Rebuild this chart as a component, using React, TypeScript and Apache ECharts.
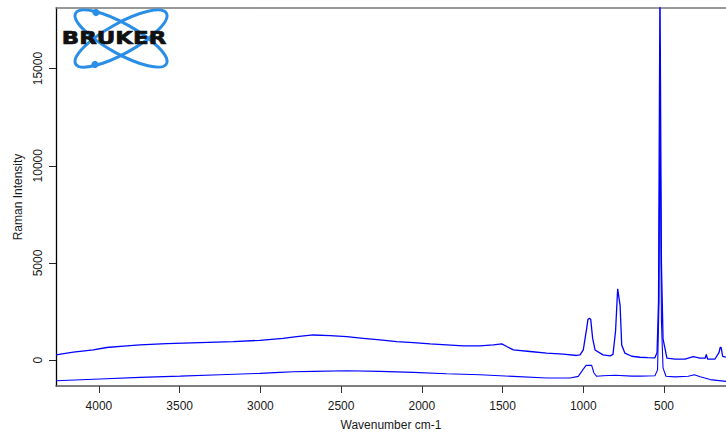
import React, { useEffect, useRef } from "react";
import * as echarts from "echarts";

// Upper spectrum (wavenumber cm-1, intensity)
const upperWavenumbers = [
  4266, 4159, 4035, 3952, 3828, 3746, 3581, 3374, 3168, 3003, 2860, 2775, 2672, 2569, 2465, 2364,
  2259, 2156, 2053, 1949, 1846, 1743, 1640, 1557, 1505, 1474, 1433, 1330, 1227, 1124, 1041, 1020,
  1000, 979, 971, 962, 954, 942, 927, 878, 834, 816, 800, 787, 772, 762, 742, 700, 649, 600, 556,
  543, 534, 525, 516, 506, 494, 482, 432, 370, 319, 276, 245, 238, 230, 184, 159, 152, 146, 137, 116,
];
const upperIntensities = [
  270, 410, 530, 650, 730, 785, 850, 900, 955, 1020, 1125, 1210, 1295, 1260, 1210, 1125,
  1040, 955, 900, 835, 785, 730, 730, 785, 835, 700, 530, 445, 360, 305, 240, 270,
  525, 1630, 2100, 2150, 2100, 1120, 525, 270, 220, 300, 1500, 3670, 2820, 780, 357, 200, 150, 130, 120,
  400, 3000, 19500, 5000, 1100, 600, 100, 50, 50, 180, 100, 100, 300, 50, 60, 400, 650, 650, 200, 150,
];

// Lower spectrum (wavenumber cm-1, intensity)
const lowerWavenumbers = [
  4266, 3994, 3746, 3498, 3250, 3003, 2879, 2798, 2672, 2465, 2259, 2053, 1846, 1640, 1433, 1227,
  1082, 1031, 1002, 983, 948, 934, 917, 878, 803, 700, 649, 556, 540, 531, 525, 516, 506, 488,
  432, 350, 312, 276, 214, 116,
];
const lowerIntensities = [
  -1060, -970, -885, -820, -750, -680, -630, -600, -580, -545, -580, -630, -700, -750, -835, -920,
  -920, -835, -490, -270, -270, -660, -830, -800, -780, -820, -820, -800, -500, 3000, 13500, 2000, -400, -830,
  -860, -830, -750, -850, -1000, -1090,
];

const xTickValues = [500, 1000, 1500, 2000, 2500, 3000, 3500, 4000];
const yTickValues = [0, 5000, 10000, 15000];

const X_MIN = 116;
const X_MAX = 4266;
const Y_MIN = -1330;
const Y_MAX = 18117;

const FONT = "Liberation Sans, Arial, sans-serif";
const TEXT = "#1a1a1a";
const LOGO_BLUE = "#2a8de6";

export default function App() {
  const ref = useRef<HTMLDivElement>(null);

  useEffect(() => {
    document.body.style.margin = "0";
    const chart = echarts.init(ref.current!, null, { renderer: "svg" });

    const upper = upperWavenumbers.map((w, i) => [w, upperIntensities[i]]);
    const lower = lowerWavenumbers.map((w, i) => [w, lowerIntensities[i]]);

    const cx = 121;
    const cy = 38.5;
    const plain = (v: number) => String(v);

    chart.setOption({
      animation: false,
      backgroundColor: "#ffffff",
      grid: { left: 56, right: 0, top: 8, bottom: 48, containLabel: false },
      xAxis: [
        {
          type: "value",
          inverse: true,
          min: X_MIN,
          max: X_MAX,
          position: "bottom",
          axisLine: { show: true, onZero: false, lineStyle: { color: "#555", width: 1.5 } },
          axisTick: { show: true, length: 7, customValues: xTickValues, lineStyle: { color: "#333", width: 1 } },
          axisLabel: { customValues: xTickValues, formatter: plain, margin: 14, fontSize: 12, fontFamily: FONT, color: TEXT },
          splitLine: { show: false },
          name: "Wavenumber cm-1",
          nameLocation: "middle",
          nameGap: 33,
          nameTextStyle: { fontSize: 12, fontFamily: FONT, color: TEXT },
        },
        {
          type: "value",
          inverse: true,
          min: X_MIN,
          max: X_MAX,
          position: "top",
          axisLine: { show: true, onZero: false, lineStyle: { color: "#777", width: 1.5 } },
          axisTick: { show: false },
          axisLabel: { show: false },
          splitLine: { show: false },
        },
      ],
      yAxis: {
        type: "value",
        min: Y_MIN,
        max: Y_MAX,
        axisLine: { show: true, onZero: false, lineStyle: { color: "#000", width: 1.3 } },
        axisTick: { show: true, length: 7, customValues: yTickValues, lineStyle: { color: "#222", width: 1 } },
        axisLabel: { customValues: yTickValues, formatter: plain, rotate: 90, margin: 12, fontSize: 12, fontFamily: FONT, color: TEXT },
        splitLine: { show: false },
        name: "Raman Intensity",
        nameLocation: "middle",
        nameGap: 31,
        nameTextStyle: { fontSize: 12, fontFamily: FONT, color: TEXT },
      },
      series: [
        {
          type: "line",
          data: upper,
          xAxisIndex: 0,
          showSymbol: false,
          symbol: "none",
          clip: true,
          lineStyle: { color: "#0000ff", width: 1.3 },
        },
        {
          type: "line",
          data: lower,
          xAxisIndex: 0,
          showSymbol: false,
          symbol: "none",
          clip: true,
          lineStyle: { color: "#0000ff", width: 1.1 },
        },
      ],
      graphic: [
        {
          type: "ellipse",
          shape: { cx, cy, rx: 52, ry: 15 },
          rotation: 0.51,
          originX: cx,
          originY: cy,
          style: { fill: "none", stroke: LOGO_BLUE, lineWidth: 3 },
          z: 10,
        },
        {
          type: "ellipse",
          shape: { cx, cy, rx: 52, ry: 15 },
          rotation: -0.51,
          originX: cx,
          originY: cy,
          style: { fill: "none", stroke: LOGO_BLUE, lineWidth: 3 },
          z: 10,
        },
        {
          type: "circle",
          shape: { cx: 96, cy: 12.5, r: 3.6 },
          style: { fill: LOGO_BLUE },
          z: 11,
        },
        {
          type: "circle",
          shape: { cx: 95, cy: 64.5, r: 3.6 },
          style: { fill: LOGO_BLUE },
          z: 11,
        },
        {
          type: "text",
          x: 114,
          y: 37.5,
          scaleX: 1.27,
          z: 12,
          style: {
            text: "BRUKER",
            fontSize: 18,
            fontWeight: "bold",
            fontFamily: "DejaVu Sans",
            fill: "#111",
            stroke: "#111",
            lineWidth: 0.7,
            textAlign: "center",
            textVerticalAlign: "middle",
            align: "center",
            verticalAlign: "middle",
          },
        },
      ],
    });

    return () => chart.dispose();
  }, []);

  return <div ref={ref} style={{ width: 726, height: 436 }} />;
}
